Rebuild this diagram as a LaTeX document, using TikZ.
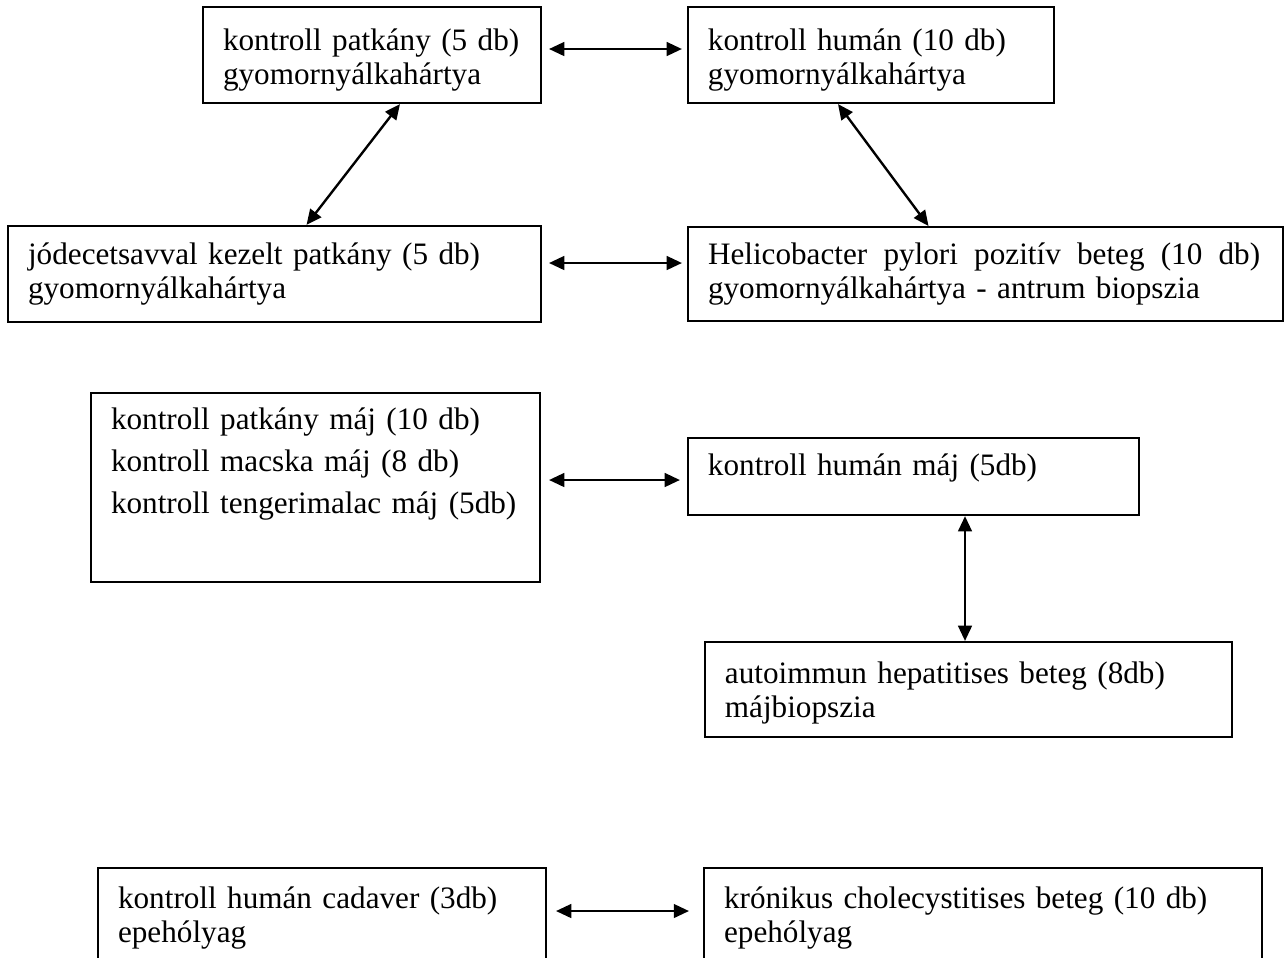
\documentclass[tikz,border=0pt]{standalone}
\usepackage{fontspec}
\setmainfont{Liberation Serif}
\usetikzlibrary{arrows.meta}

\begin{document}
\begin{tikzpicture}[
  x=0.38pt, y=-0.38pt,
  box/.style={rectangle, draw, line width=0.8pt, inner xsep=7.6pt, inner ysep=0pt,
    font=\fontsize{11.85}{12.9}\selectfont,
    execute at begin node={\rightskip=-14pt plus 1fil\parfillskip=0pt plus 1fil}},
  arrow/.style={{Triangle[length=5.8pt,width=5.2pt]}-{Triangle[length=5.8pt,width=5.2pt]}, line width=0.9pt},
]
\useasboundingbox (0,0) rectangle (1285,957);
\clip (0,0) rectangle (1285,957);

% === gyomor ===
\node[box, text width=113.2pt, minimum height=36.5pt] (g1) at (372,55)
  {\rule{0pt}{12pt}kontroll patkány (5 db)\\gyomornyálkahártya};
\node[box, text width=123.9pt, minimum height=36.5pt] (g2) at (871,55)
  {\rule{0pt}{12pt}kontroll humán (10 db)\\gyomornyálkahártya};
\node[box, text width=187.3pt, minimum height=36.5pt] (g3) at (274.5,274)
  {jódecetsavval kezelt patkány (5 db)\\gyomornyálkahártya};
\node[box, text width=210.9pt, minimum height=35.7pt] (g4) at (985.5,274)
  {\hbox to 209.8pt{Helicobacter\hfill pylori\hfill pozitív\hfill beteg\hfill (10\hfill db)}\\gyomornyálkahártya - antrum biopszia};
\draw[arrow] ([shift={(7,-6)}]g1.east) -- ([shift={(-5,-6)}]g2.west);
\draw[arrow] ([shift={(28,0)}]g1.south) -- ([shift={(32,0)}]g3.north);
\draw[arrow] ([shift={(-33,0)}]g2.south) -- ([shift={(-57,0)}]g4.north);
\draw[arrow] ([shift={(7,-11)}]g3.east) -- ([shift={(-5,-11)}]g4.west);

% === máj ===
\node[box, text width=155.4pt, minimum height=71.8pt] (m1) at (315.5,487.5)
  {kontroll patkány máj (10 db)\\[3.1pt]kontroll macska máj (8 db)\\[3.1pt]kontroll tengerimalac máj (5db)\rule[-20.7pt]{0pt}{20.7pt}};
\node[box, text width=156.2pt, minimum height=29.3pt] (m2) at (913.5,476.5)
  {kontroll humán máj (5db)\rule[-8.7pt]{0pt}{8.7pt}};
\node[box, text width=185.1pt, minimum height=36.1pt] (m3) at (968.5,689.5)
  {\rule{0pt}{11pt}autoimmun hepatitises beteg (8db)\\májbiopszia};
\draw[arrow] ([shift={(8,-7.5)}]m1.east) -- ([shift={(-7,3.5)}]m2.west);
\draw[arrow] ([shift={(51.5,0)}]m2.south) -- ([shift={(51.5,0)}]m2.south |- m3.north);

% === epehólyag ===
\node[box, text width=155pt, minimum height=38pt] (e1) at (322,918)
  {kontroll humán cadaver (3db)\\epehólyag};
\node[box, text width=196.8pt, minimum height=38pt] (e2) at (983,918)
  {krónikus cholecystitises beteg (10 db)\\epehólyag};
\draw[arrow] ([shift={(9,-7)}]e1.east) -- ([shift={(-14,-7)}]e2.west);

\end{tikzpicture}
\end{document}
